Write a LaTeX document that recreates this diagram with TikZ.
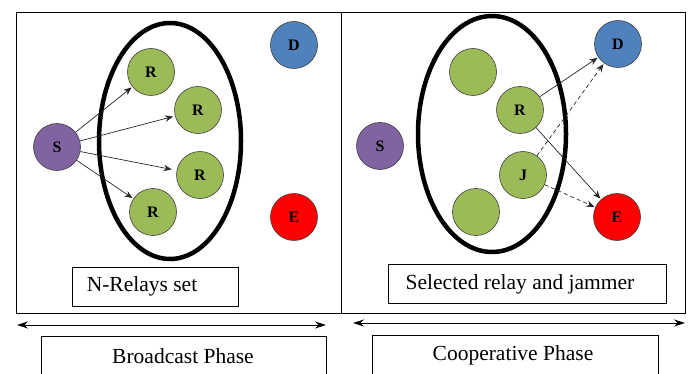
\documentclass[tikz,border=0pt]{standalone}
\usepackage{fontspec}
\setmainfont{Liberation Serif}
\usetikzlibrary{arrows.meta}
\definecolor{cS}{HTML}{8064A2}
\definecolor{cR}{HTML}{9BBB59}
\definecolor{cD}{HTML}{4F81BD}
\definecolor{cE}{HTML}{FF0000}
\begin{document}
\begin{tikzpicture}[x=1pt,y=-1pt,
  nd/.style={circle,draw=black!75,line width=0.6pt,minimum size=47pt,inner sep=0pt,font=\bfseries\fontsize{16}{16}\selectfont},
  grp/.style={draw=black,line width=4.5pt},
  box/.style={draw=black,line width=0.8pt,inner sep=0pt},
  txt/.style={inner sep=0pt,font=\fontsize{21.5}{21.5}\selectfont},
  arr/.style={-{Stealth[length=8pt,width=6.5pt]},line width=0.7pt,black!85},
  darr/.style={arr,dashed,dash pattern=on 4pt off 3pt},
  phase/.style={{Stealth[length=11pt,width=7pt]}-{Stealth[length=11pt,width=7pt]},line width=0.8pt}]
\useasboundingbox (0,0) rectangle (698,374);
% panels
\draw[line width=0.8pt] (16,12) rectangle (685,313);
\draw[line width=0.8pt] (341,12) -- (341,313);
% left panel
\draw[grp] (170,141) ellipse [x radius=71, y radius=118];
\node[nd,fill=cS] (S1) at (57,147) {S};
\node[nd,fill=cR] (R1) at (151,72) {R};
\node[nd,fill=cR] (R2) at (198,110) {R};
\node[nd,fill=cR] (R3) at (200,175) {R};
\node[nd,fill=cR] (R4) at (153,212) {R};
\node[nd,fill=cD] (D1) at (294,45) {D};
\node[nd,fill=cE] (E1) at (294,217) {E};
\draw[arr,shorten >=1pt] (S1) -- (R1);
\draw[arr,shorten >=2pt] (S1) -- (R2);
\draw[arr,shorten >=5pt] (S1) -- (R3);
\draw[arr,shorten >=1pt] (S1) -- (R4);
\node[box,minimum width=166pt,minimum height=39pt] (L1) at (155,286.5) {};
\node[txt] (L1t) at (142,286) {N-Relays set};
% right panel
\draw[grp] (492,134) ellipse [x radius=74, y radius=118];
\node[nd,fill=cS] (S2) at (380,146) {S};
\node[nd,fill=cR] (G1) at (473,72) {};
\node[nd,fill=cR] (RR) at (520,110) {R};
\node[nd,fill=cR] (JJ) at (523,175) {J};
\node[nd,fill=cR] (G2) at (476,212) {};
\node[nd,fill=cD] (D2) at (618,44) {D};
\node[nd,fill=cE] (E2) at (617,217) {E};
\draw[arr,shorten >=1pt] (RR) -- (D2);
\draw[arr,shorten >=1pt] (RR) -- (E2);
\draw[darr,shorten >=1pt] (JJ) -- (D2);
\draw[darr,shorten >=1pt] (JJ) -- (E2);
\node[box,minimum width=278pt,minimum height=39pt] (L2) at (527,283.5) {};
\node[txt] (L2t) at (520,284) {Selected relay and jammer};
% phases
\coordinate (a1) at (17,325);
\coordinate (b1) at (326,325);
\draw[phase] (a1) -- (b1);
\coordinate (a2) at (353,323);
\coordinate (b2) at (685,323);
\draw[phase] (a2) -- (b2);
\node[box,minimum width=285pt,minimum height=48pt,anchor=north west] (P1) at (41,336) {};
\node[txt] (T1) at (183,356) {Broadcast Phase};
\node[box,minimum width=286pt,minimum height=48pt,anchor=north west] (P2) at (372,335) {};
\node[txt] (T2) at (513,355) {Cooperative Phase};
\end{tikzpicture}
\end{document}
